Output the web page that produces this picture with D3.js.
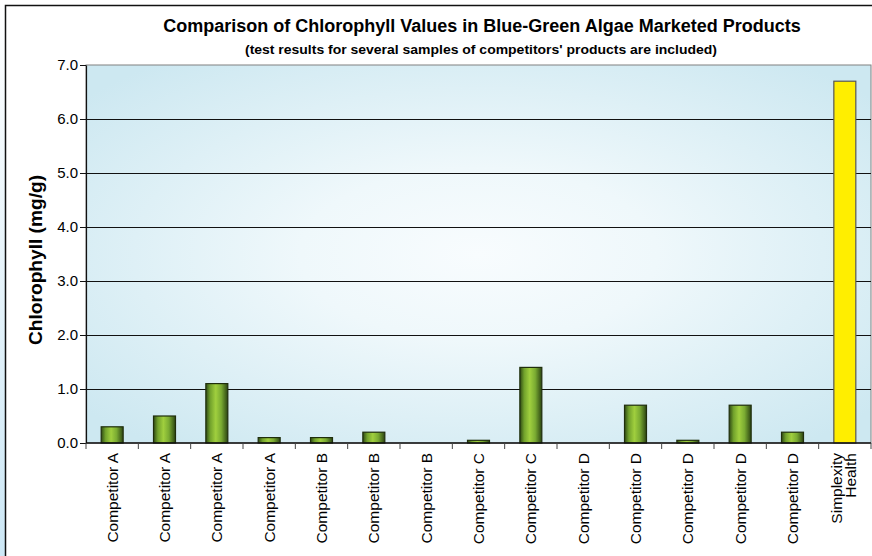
<!DOCTYPE html>
<html>
<head>
<meta charset="utf-8">
<script src="https://cdn.jsdelivr.net/npm/d3@7"></script>
<style>
  body { margin: 0; background: #fff; }
  svg { display: block; font-family: Arial, "Liberation Sans", sans-serif; }
</style>
</head>
<body>
<div id="chart"></div>
<script>
// Chlorophyll bar chart

var categories = ["Competitor A", "Competitor A", "Competitor A", "Competitor A",
    "Competitor B", "Competitor B", "Competitor B", "Competitor C", "Competitor C",
    "Competitor D", "Competitor D", "Competitor D", "Competitor D", "Competitor D",
    "Simplexity Health"];
var values = [0.3, 0.5, 1.1, 0.1, 0.1, 0.2, 0, 0.05, 1.4, 0, 0.7, 0.05, 0.7, 0.2, 6.7];
var yTicks = [0, 1, 2, 3, 4, 5, 6, 7];

var width = 872, height = 556;
var margin = {top: 65, right: 1, bottom: 113, left: 86};

var svg = d3.select("#chart")
    .append("svg")
        .attr("width", width)
        .attr("height", height);

var defs = svg.append("defs");

var bg = defs.append("radialGradient")
    .attr("id", "plotBg")
    .attr("cx", "50%").attr("cy", "50%").attr("r", "65%");
bg.append("stop").attr("offset", "0%").attr("stop-color", "#f8fcfe");
bg.append("stop").attr("offset", "35%").attr("stop-color", "#eff8fb");
bg.append("stop").attr("offset", "100%").attr("stop-color", "#cde8f1");

var greenGrad = defs.append("linearGradient")
    .attr("id", "greenBar")
    .attr("x1", "0%").attr("x2", "100%").attr("y1", "0%").attr("y2", "0%");
greenGrad.append("stop").attr("offset", "0%").attr("stop-color", "#2f4a14");
greenGrad.append("stop").attr("offset", "20%").attr("stop-color", "#72a22c");
greenGrad.append("stop").attr("offset", "45%").attr("stop-color", "#a0cf3e");
greenGrad.append("stop").attr("offset", "70%").attr("stop-color", "#7aab32");
greenGrad.append("stop").attr("offset", "100%").attr("stop-color", "#2c4512");

var sideGrad = defs.append("linearGradient")
    .attr("id", "sideBg")
    .attr("x1", "0%").attr("x2", "0%").attr("y1", "0%").attr("y2", "100%");
sideGrad.append("stop").attr("offset", "0%").attr("stop-color", "#ffffff");
sideGrad.append("stop").attr("offset", "100%").attr("stop-color", "#cde8f6");

// left strip + outer frame
svg.append("rect")
    .attr("x", 0).attr("y", 0)
    .attr("width", 5).attr("height", height)
    .attr("fill", "url(#sideBg)");
svg.append("path")
    .attr("d", "M5.5," + height + "V5.5H" + width)
    .attr("fill", "none")
    .attr("stroke", "#111")
    .attr("stroke-width", 1.5);

var plotW = width - margin.left - margin.right;
var plotH = height - margin.top - margin.bottom;

var x = d3.scaleBand()
    .domain(d3.range(categories.length))
    .range([0, plotW])
    .paddingInner(0.58)
    .paddingOuter(0.29);

var y = d3.scaleLinear()
    .domain([0, 7])
    .range([plotH, 0]);

var g = svg.append("g")
    .attr("transform", "translate(" + margin.left + "," + margin.top + ")");

g.append("rect")
    .attr("width", plotW)
    .attr("height", plotH)
    .attr("fill", "url(#plotBg)")
    .attr("stroke", "#808080")
    .attr("stroke-width", 1);

// gridlines
g.selectAll(".grid")
    .data(yTicks.slice(1, -1))
    .enter().append("line")
        .attr("x1", 0)
        .attr("x2", plotW)
        .attr("y1", function(d) { return Math.round(y(d)) + 0.5; })
        .attr("y2", function(d) { return Math.round(y(d)) + 0.5; })
        .attr("stroke", "#111")
        .attr("stroke-width", 1.2);

// bars
g.selectAll(".bar")
    .data(values)
    .enter().append("rect")
        .attr("x", function(d, i) { return x(i); })
        .attr("y", function(d) { return y(d); })
        .attr("width", x.bandwidth())
        .attr("height", function(d) { return plotH - y(d); })
        .attr("fill", function(d, i) { return i == values.length - 1 ? "#ffee00" : "url(#greenBar)"; })
        .attr("stroke", function(d, i) { return i == values.length - 1 ? "#555" : "#1f2e0c"; })
        .attr("stroke-width", 1.2);

// y axis
var yAxis = g.append("g")
    .call(d3.axisLeft(y).tickValues(yTicks).tickFormat(d3.format(".1f")).tickSize(6).tickSizeOuter(0));
yAxis.select(".domain").attr("stroke", "#111").attr("stroke-width", 1.2);
yAxis.selectAll("line").attr("stroke", "#111");
yAxis.selectAll("text")
    .attr("x", -8)
    .style("font-size", "15px")
    .attr("fill", "#000");

// x axis with ticks between categories
var xg = g.append("g")
    .attr("transform", "translate(0," + plotH + ")");
xg.append("line")
    .attr("x1", 0).attr("x2", plotW)
    .attr("stroke", "#111").attr("stroke-width", 1.5);
xg.selectAll(".tick")
    .data(d3.range(categories.length + 1))
    .enter().append("line")
        .attr("x1", function(d) { return d * x.step(); })
        .attr("x2", function(d) { return d * x.step(); })
        .attr("y1", 0).attr("y2", 6)
        .attr("stroke", "#444");

// category labels (rotated)
var labelG = xg.selectAll(".lbl")
    .data(categories)
    .enter().append("text")
        .attr("transform", function(d, i) {
            return "translate(" + (x(i) + x.bandwidth() / 2) + ",10)rotate(-90)";
        })
        .attr("text-anchor", "end")
        .style("font-size", "15.5px")
        .attr("fill", "#000");
labelG.each(function(d) {
    var words = d.split(" ");
    var t = d3.select(this);
    if (d.indexOf("Simplexity") == 0) {
        t.append("tspan").attr("x", 0).attr("dy", "-0.2em").text(words[0]);
        t.append("tspan").attr("x", 0).attr("dy", "0.95em").text(words[1]);
    } else {
        t.append("tspan").attr("x", 0).attr("dy", "0.35em").text(d);
    }
});

// titles
svg.append("text")
    .attr("x", 482)
    .attr("y", 32)
    .attr("text-anchor", "middle")
    .style("font-size", "18px")
    .style("font-weight", "bold")
    .text("Comparison of Chlorophyll Values in Blue-Green Algae Marketed Products");

svg.append("text")
    .attr("x", 481)
    .attr("y", 54)
    .attr("text-anchor", "middle")
    .attr("textLength", 472)
    .attr("lengthAdjust", "spacingAndGlyphs")
    .style("font-size", "13px")
    .style("font-weight", "bold")
    .text("(test results for several samples of competitors' products are included)");

svg.append("text")
    .attr("transform", "translate(42,260)rotate(-90)")
    .attr("text-anchor", "middle")
    .attr("textLength", 170)
    .attr("lengthAdjust", "spacingAndGlyphs")
    .style("font-size", "18px")
    .style("font-weight", "bold")
    .text("Chlorophyll (mg/g)");
</script>
</body>
</html>
